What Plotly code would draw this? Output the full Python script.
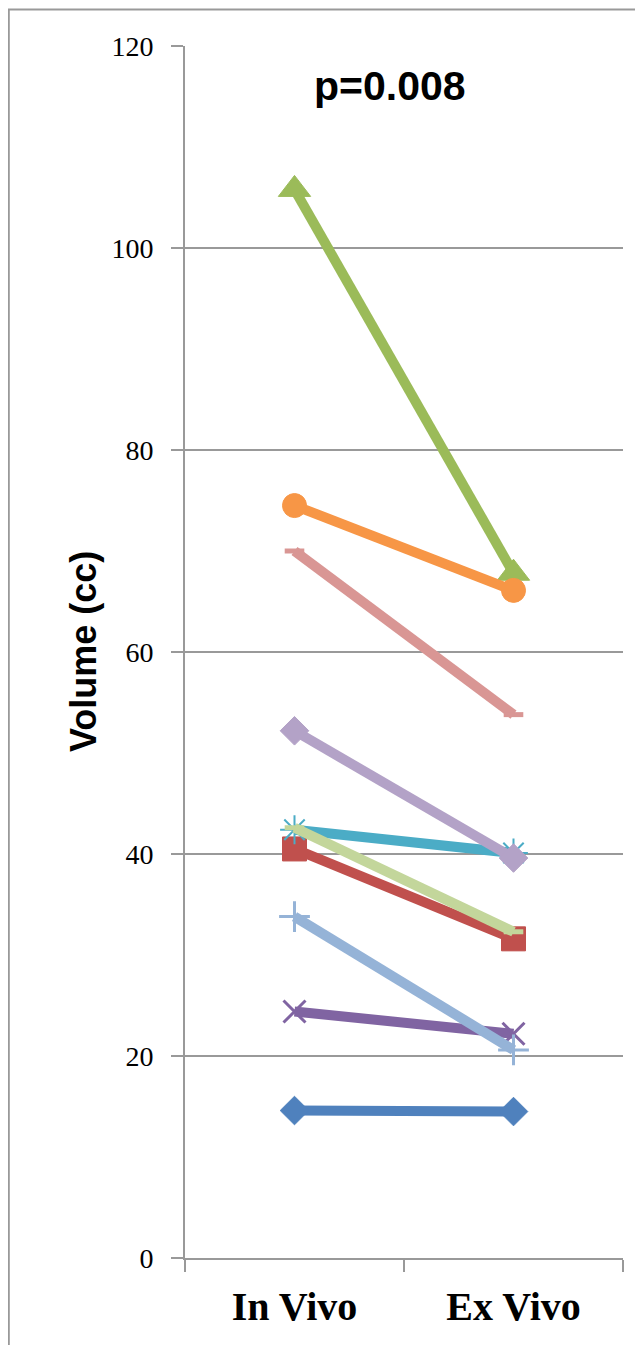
import plotly.graph_objects as go

categories = ["In Vivo", "Ex Vivo"]
series_names = ["S1", "S2", "S3", "S4", "S5", "S6", "S7", "S8", "S9", "S10"]
in_vivo = [14.6, 40.5, 105.8, 24.4, 42.4, 74.5, 33.8, 70.0, 52.2, 42.6]
ex_vivo = [14.5, 31.6, 67.8, 22.2, 40.1, 66.1, 20.6, 53.8, 39.6, 32.3]
colors = ["#4F81BD", "#C0504D", "#9BBB59", "#8064A2", "#4BACC6",
          "#F79646", "#95B3D7", "#D99694", "#B3A2C7", "#C3D69B"]
symbols = ["diamond", "square", "triangle-up", "x-thin-open", "asterisk-open",
           "circle", "cross-thin-open", "line-ew-open", "diamond", "line-ew-open"]
sizes = [22, 24, 28, 22, 24, 24, 22, 14, 22, 14]
mlw = [1, 1, 1, 3, 2, 1, 3, 5, 1, 5]

fig = go.Figure()
for i, name in enumerate(series_names):
    fig.add_trace(go.Scatter(
        x=categories, y=[in_vivo[i], ex_vivo[i]], name=name, mode="lines+markers",
        line=dict(color=colors[i], width=10),
        marker=dict(symbol=symbols[i], size=sizes[i], color=colors[i],
                    line=dict(color=colors[i], width=mlw[i])),
        showlegend=False))

fig.update_layout(
    width=635, height=1337,
    margin=dict(l=177, r=20, t=38, b=87),
    paper_bgcolor="white", plot_bgcolor="white",
    xaxis=dict(type="category", range=[-0.5, 1.5], tickson="boundaries",
               ticks="outside", ticklen=12, tickwidth=2, tickcolor="#999999",
               showline=True, linecolor="#999999", linewidth=2, showgrid=False,
               tickfont=dict(family="Liberation Serif", size=40, color="black"),
               tickprefix="<b>", ticksuffix="</b>",
               ticklabelstandoff=12),
    yaxis=dict(range=[0, 120], dtick=20, ticks="outside", ticklen=12, tickwidth=2,
               tickcolor="#999999", showline=True, linecolor="#999999", linewidth=2,
               showgrid=True, gridcolor="#999999", gridwidth=2, zeroline=False,
               tickfont=dict(family="Liberation Serif", size=28, color="black"),
               ticklabelstandoff=12),
    annotations=[
        dict(text="<b>p=0.008</b>", xref="paper", yref="paper", x=0.467, y=0.967,
             xanchor="center", yanchor="middle", showarrow=False,
             font=dict(family="Liberation Sans", size=41, color="black")),
        dict(text="<b>Volume (cc)</b>", xref="paper", yref="paper", x=-0.2326, y=0.5,
             xanchor="center", yanchor="middle", textangle=-90, showarrow=False,
             font=dict(family="Liberation Sans", size=36, color="black")),
    ],
    shapes=[dict(type="rect", xref="paper", yref="paper", x0=-0.4023, x1=1.2, y0=-0.2,
                 y1=1.0302, line=dict(color="#999999", width=2), fillcolor="rgba(0,0,0,0)")],
)
fig.write_html("out.html")
